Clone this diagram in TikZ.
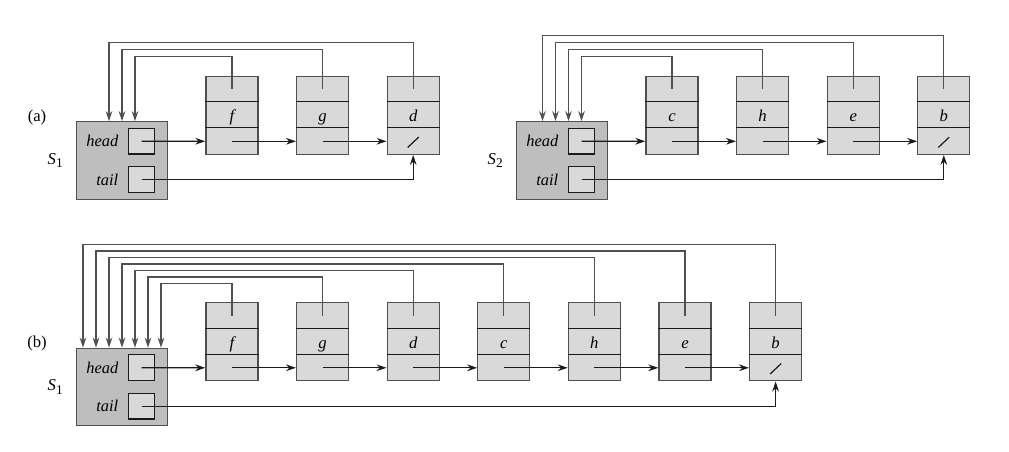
\documentclass[tikz,border=0pt]{standalone}
\usepackage{fontspec}
\setmainfont{Liberation Serif}
\usetikzlibrary{arrows.meta,calc}

\definecolor{cellfill}{HTML}{D9D9D9}
\definecolor{setfill}{HTML}{BEBEBE}
\definecolor{frame}{HTML}{505050}
\definecolor{ink}{HTML}{1A1A1A}

\tikzset{
  elem/.style={draw=frame, fill=cellfill, line width=1pt,
    minimum width=39pt, minimum height=58.5pt, inner sep=0pt},
  setbox/.style={draw=frame, fill=setfill, line width=1pt,
    minimum width=68pt, minimum height=58.2pt, inner sep=0pt},
  ptrbox/.style={draw=ink, fill=cellfill, line width=0.9pt,
    minimum width=19.3pt, minimum height=19.3pt, inner sep=0pt},
  divider/.style={draw=ink, line width=0.9pt},
  linktip/.style={-{Stealth[length=7.5pt,width=5pt,inset=2.5pt]}},
  nextlink/.style={linktip, draw=ink, line width=0.9pt},
  backlink/.style={linktip, draw=frame, line width=1pt},
  keytext/.style={anchor=base, font=\itshape\fontsize{12.5}{14}\selectfont, inner sep=0pt},
  fieldtext/.style={anchor=east, font=\itshape\fontsize{12.3}{14}\selectfont, inner sep=0pt},
  setname/.style={anchor=base east, font=\fontsize{12.5}{15}\selectfont, inner sep=0pt},
  partlabel/.style={font=\fontsize{12.5}{15}\selectfont, inner sep=0pt},
}

% #1 prefix, #2 x and #3 y of the set record, #4 subscript,
% #5 number of elements, #6 keys, #7 spacing of the back-pointer levels
\newcommand{\linkedset}[7]{%
  \node[setbox] (#1set) at (#2,#3) {};
  \node[ptrbox] (#1head) at ($(#1set.center)+(19.5,-19.3)$) {};
  \node[ptrbox] (#1tail) at ($(#1set.center)+(19.5,19.2)$) {};
  \node[fieldtext] (#1headlbl) at ($(#1head.west)+(-9.5,0)$) {head};
  \node[fieldtext] (#1taillbl) at ($(#1tail.west)+(-9.5,0)$) {tail};
  \node[setname] (#1name) at ($(#1set.west)+(-13,3.8)$)
    {\textit{S}\raisebox{-2.5pt}{\fontsize{10}{12}\selectfont #4}};
  \foreach \k [count=\i] in {#6} {
    \node[elem] (#1e\i) at ($(#1set.center)+({110+90.6*(\i-1)},-45.2)$) {};
    \draw[divider] ($(#1e\i.north west)+(0,26)$) -- ($(#1e\i.north east)+(0,26)$);
    \draw[divider] ($(#1e\i.north west)+(0,52)$) -- ($(#1e\i.north east)+(0,52)$);
    \node[keytext] (#1k\i) at ($(#1e\i.center)+(0,6.5)$) {\k};
    \pgfmathtruncatemacro{\j}{\i-1}
    \ifnum\i>1
      \draw[nextlink] ($(#1e\j.center)+(0,26)$) -- ($(#1e\i.west)+(0,26)$);
    \fi
    \coordinate (#1up\i) at ($(#1e\i.north)+(0,{-18.8-#7*(\i-1)})$);
    \coordinate (#1in\i) at ($(#1set.north)+({13*((#5+1)/2-\i)},0)$);
    \draw[backlink] ($(#1e\i.center)+(0,-26)$) -- (#1up\i) -| (#1in\i);
  }
  \draw[nextlink] (#1head.center) -- ($(#1e1.west)+(0,26)$);
  \draw[nextlink] (#1tail.center) -| (#1e#5.south);
  \draw[divider] ($(#1e#5.center)+(-5.5,32.2)$) -- ($(#1e#5.center)+(5.5,21.8)$);
}

\begin{document}
\begin{tikzpicture}[x=0.75pt,y=-0.75pt]
  \useasboundingbox (0,0) rectangle (1009,452);

  % (a): two separate sets
  \node[partlabel] (parta) at (37,117.5) {(a)};
  \linkedset{A}{122}{160.5}{1}{3}{f,g,d}{7}
  \linkedset{B}{562}{160.5}{2}{4}{c,h,e,b}{7}

  % (b): the union of both sets
  \node[partlabel] (partb) at (37,343.3) {(b)};
  \linkedset{C}{122}{387}{1}{7}{f,g,d,c,h,e,b}{6.5}
\end{tikzpicture}
\end{document}
